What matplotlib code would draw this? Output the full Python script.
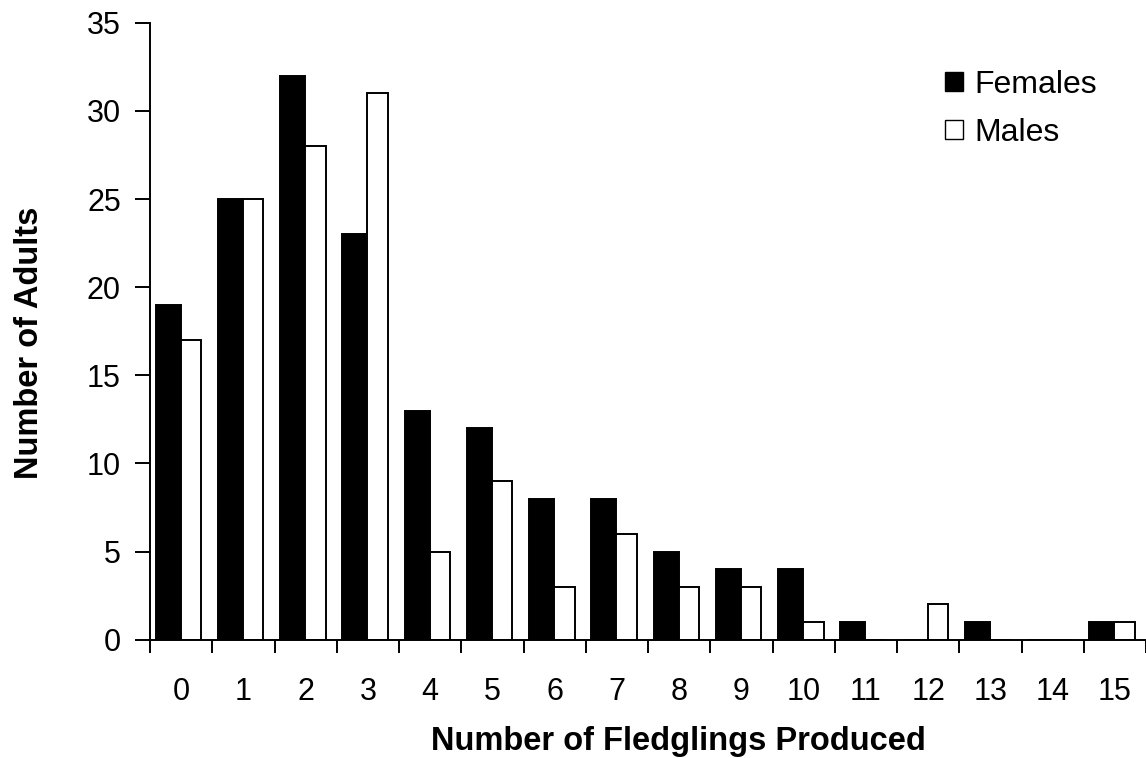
import numpy as np
import matplotlib

matplotlib.use("Agg")
import matplotlib.pyplot as plt
from matplotlib.patches import Patch

plt.rcParams["font.family"] = ["Liberation Sans", "DejaVu Sans"]

fledglings = [str(i) for i in range(16)]
females = [19, 25, 32, 23, 13, 12, 8, 8, 5, 4, 4, 1, 0, 1, 0, 1]
males = [17, 25, 28, 31, 5, 9, 3, 6, 3, 3, 1, 0, 2, 0, 0, 1]

fig = plt.figure(figsize=(11.46, 7.58), dpi=100)
ax = fig.add_axes([0.131, 0.156, 0.869, 0.814])

x = np.arange(len(fledglings))
ax.bar(x - 0.41, females, 0.40, align="edge", color="black", edgecolor="black", linewidth=1.4)
ax.bar(x - 0.01, males, 0.33, align="edge", color="white", edgecolor="black", linewidth=1.4)

ax.set_xlim(-0.5, len(fledglings) - 0.5)
ax.set_ylim(0, 35)
ax.set_yticks(np.arange(0, 36, 5))
ax.tick_params(axis="y", direction="out", length=11, width=1.4, labelsize=22, pad=10)

# tick marks sit between the groups, labels at the group centres
ax.set_xticks(np.arange(-0.5, len(fledglings), 1.0))
ax.set_xticklabels([])
ax.tick_params(axis="x", which="major", direction="out", length=9, width=1.4)
ax.set_xticks(x, minor=True)
ax.set_xticklabels(fledglings, minor=True)
ax.tick_params(axis="x", which="minor", length=0, labelsize=22, pad=27)

for s in ["top", "right"]:
    ax.spines[s].set_visible(False)
ax.spines["left"].set_linewidth(1.4)
ax.spines["bottom"].set_linewidth(1.4)

ax.set_xlabel("Number of Fledglings Produced", fontsize=23.5, fontweight="bold")
ax.set_ylabel("Number of Adults", fontsize=23.5, fontweight="bold")
ax.xaxis.set_label_coords(0.531, -0.14)
ax.yaxis.set_label_coords(-0.106, 0.482)

handles = [
    Patch(facecolor="black", edgecolor="black", label="Females"),
    Patch(facecolor="white", edgecolor="black", label="Males"),
]
fig.legend(handles=handles, loc="upper left", bbox_to_anchor=(945 / 1146, 1 - 70 / 758),
           frameon=False, fontsize=23, borderpad=0, borderaxespad=0,
           handlelength=0.56, handleheight=0.56, handletextpad=0.37, labelspacing=0.55)

plt.savefig("out.png", dpi=100)
